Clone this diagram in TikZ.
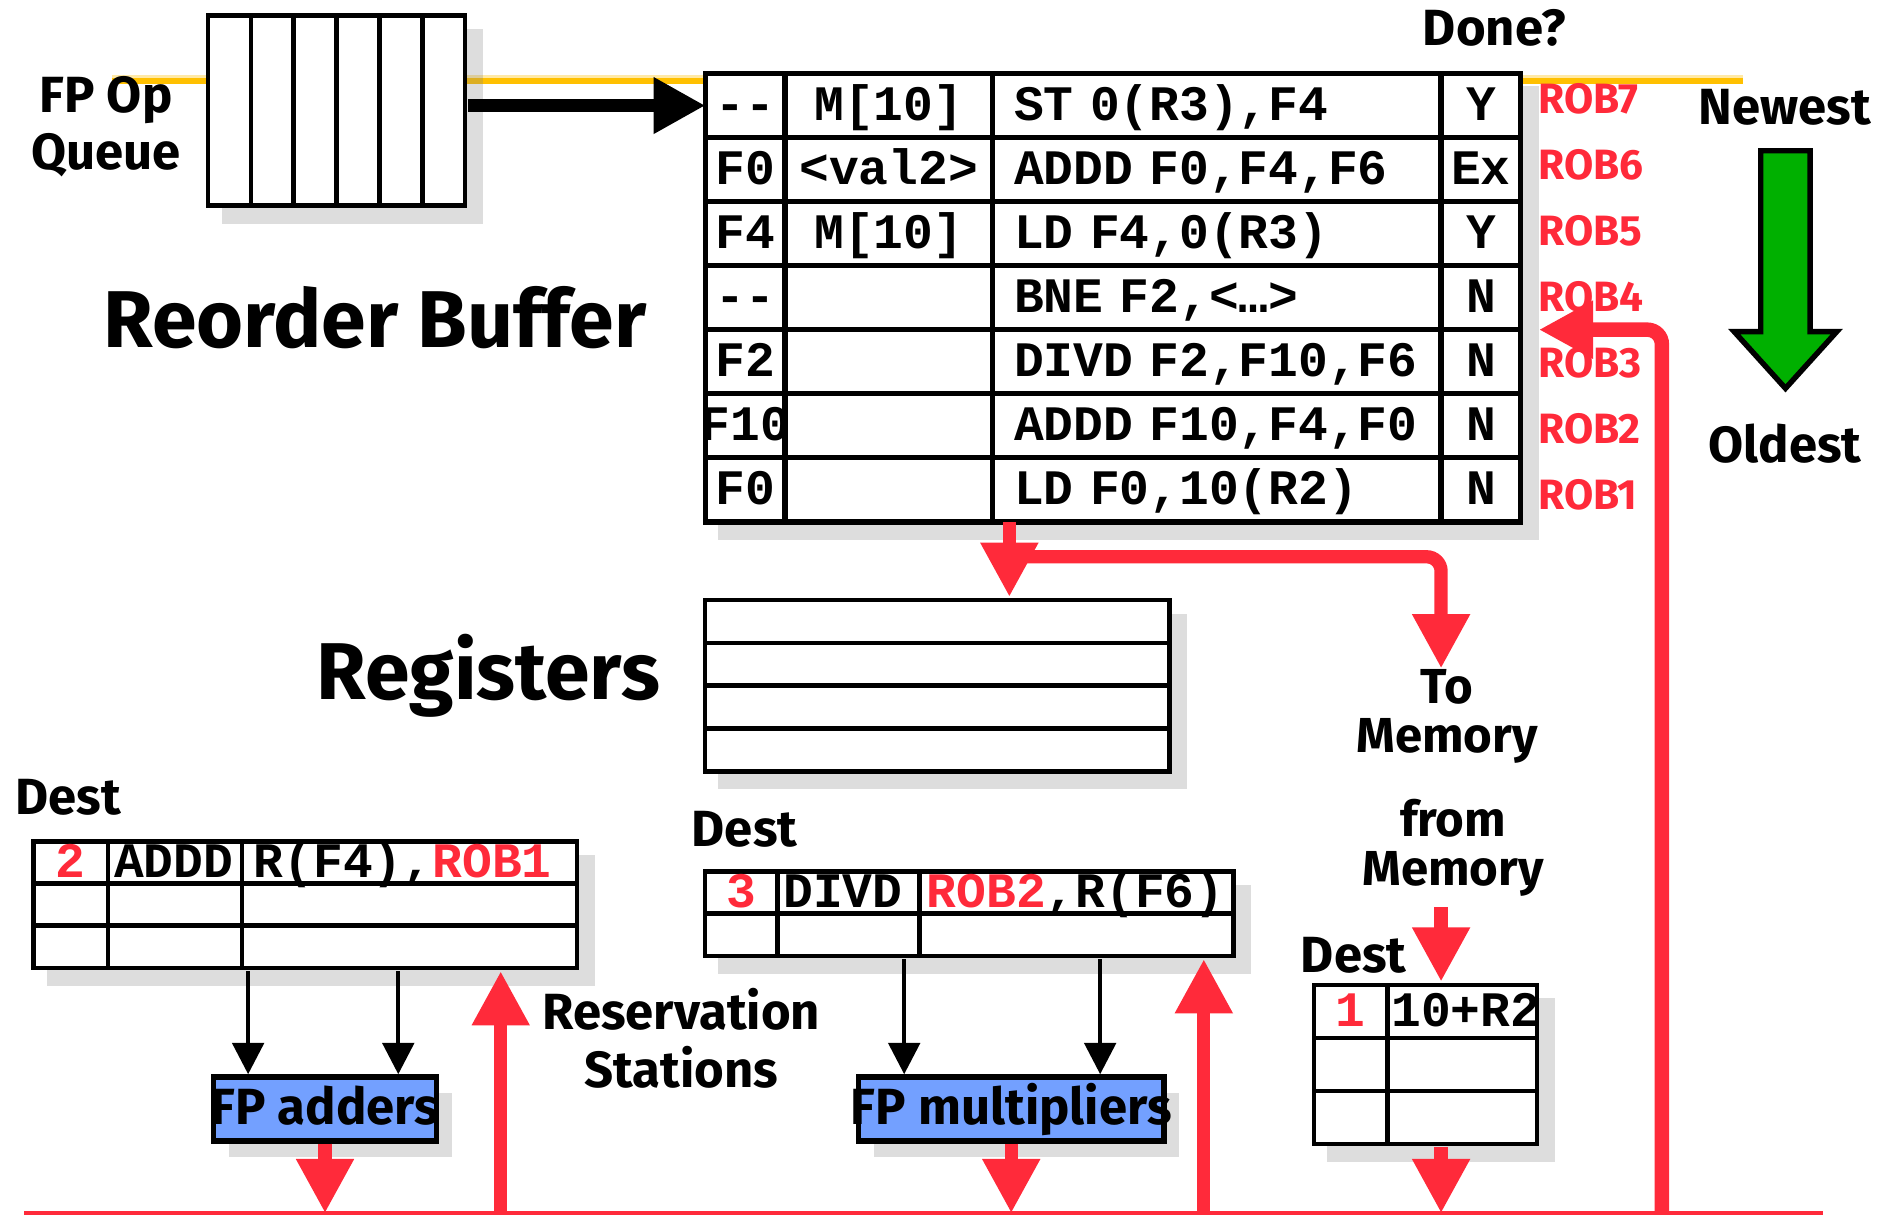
\documentclass[tikz,border=0pt]{standalone}
\usepackage{fontspec}
\setmainfont{Fira Sans}
\setmonofont{Liberation Mono}
\usetikzlibrary{matrix,arrows.meta,shadows,calc}

\definecolor{robred}{RGB}{255,42,58}
\definecolor{fpblue}{RGB}{115,160,255}
\definecolor{opyellow}{RGB}{255,192,0}
\definecolor{agegreen}{RGB}{0,176,0}

\tikzset{
  tbl/.style={matrix of nodes, nodes in empty cells, anchor=north west, inner sep=0pt,
    nodes={tcell, line width=#1}, row sep=-#1, column sep=-#1,
    fill=white, drop shadow={opacity=.27, shadow xshift=1.3mm, shadow yshift=-1.3mm}},
  tcell/.style={draw, outer sep=0pt, inner sep=0pt,
    text height=2.5mm, text depth=0pt, font=\ttfamily\bfseries\fontsize{11.7}{12}\selectfont},
  lefttxt/.style={text width=#1, align=left},
  lbl/.style={font=\bfseries\fontsize{12}{13.5}\selectfont, align=center, inner sep=0pt},
  tightlbl/.style={font=\bfseries\fontsize{11.6}{11.6}\selectfont, align=center, inner sep=0pt},
  bigtxt/.style={font=\bfseries\fontsize{19}{21}\selectfont, inner sep=0pt},
  roblbl/.style={font=\bfseries\fontsize{10}{11}\selectfont, text=robred, anchor=west, inner sep=0pt},
  fpunit/.style={draw, line width=.45mm, fill=fpblue, minimum height=5.3mm, inner sep=0pt,
    text height=2.5mm, text depth=0pt, font=\bfseries\fontsize{12}{13}\selectfont,
    drop shadow={opacity=.27, shadow xshift=1.3mm, shadow yshift=-1.3mm}},
  redarr/.style={draw=robred, line width=1.1mm, -{Triangle[length=4.5mm,width=4.5mm]}},
  blkarr/.style={line width=.35mm, -{Triangle[length=2.6mm,width=2.6mm]}},
  fatarr/.style={line width=1.1mm, -{Triangle[length=4.3mm,width=4.4mm]}},
}

\begin{document}
\begin{tikzpicture}[x=.1mm, y=-.1mm]
\useasboundingbox (0,0) rectangle (1568,1008);

\coordinate (yelL) at (93,66);
\coordinate (yelR) at (1445,66);
\draw[opyellow, line width=.7mm] (yelL) -- (yelR);
\draw[opyellow!35, line width=.2mm] ([yshift=.25mm]yelL) -- ([yshift=.25mm]yelR);

\matrix (queue) [tbl=.38mm, nodes={minimum width=3.55mm, minimum height=15.8mm}] at (170,10)
{ {} & {} & {} & {} & {} & {} \\ };

\matrix (rob) [tbl=.45mm, nodes={minimum height=5.31mm},
  column 1/.style={nodes={minimum width=6.6mm}},
  column 2/.style={nodes={minimum width=17.2mm}},
  column 3/.style={nodes={lefttxt=33.6mm, inner xsep=1.8mm}},
  column 4/.style={nodes={minimum width=6.6mm}}] at (582,58)
{
  -{}- & M[10] & ST 0(R3),F4 & Y \\
  F0 & <val2> & ADDD F0,F4,F6 & Ex \\
  F4 & M[10] & LD F4,0(R3) & Y \\
  -{}- & {} & BNE F2,<…> & N \\
  F2 & {} & DIVD F2,F10,F6 & N \\
  \makebox[0pt]{F10} & {} & ADDD F10,F4,F0 & N \\
  F0 & {} & LD F0,10(R2) & N \\
};

\matrix (regs) [tbl=.38mm, nodes={minimum width=38.5mm, minimum height=3.55mm}] at (582,495)
{ {} \\ {} \\ {} \\ {} \\ };

\matrix (rs1) [tbl=.38mm, nodes={minimum height=3.5mm},
  column 1/.style={nodes={minimum width=6.2mm}},
  column 2/.style={nodes={lefttxt=10.1mm, inner xsep=.5mm}},
  column 3/.style={nodes={lefttxt=25.8mm, inner xsep=1mm}}] at (25,695)
{
  |[text=robred]| 2 & ADDD & R(F4),\textcolor{robred}{ROB1} \\
  {} & {} & {} \\
  {} & {} & {} \\
};

\matrix (rs2) [tbl=.38mm, nodes={minimum height=3.5mm},
  column 1/.style={nodes={minimum width=6mm}},
  column 2/.style={nodes={lefttxt=10.8mm, inner xsep=.5mm}},
  column 3/.style={nodes={lefttxt=24.8mm, inner xsep=.6mm}}] at (582,720)
{
  |[text=robred]| 3 & DIVD & \textcolor{robred}{ROB2},R(F6) \\
  {} & {} & {} \\
};

\matrix (rs3) [tbl=.38mm, nodes={minimum height=4.4mm},
  column 1/.style={nodes={minimum width=6.1mm}},
  column 2/.style={nodes={lefttxt=11.8mm, inner xsep=.3mm}}] at (1087,814)
{
  |[text=robred]| 1 & 10+R2 \\
  {} & {} \\
  {} & {} \\
};

\node[fpunit, minimum width=18.5mm] (adders) at (269.5,919.5) {\makebox[0pt]{FP adders}};
\node[fpunit, minimum width=25.3mm] (mults) at (838.5,919.5) {\makebox[0pt]{FP multipliers}};

\node[lbl] (fpq) at (88,105) {FP Op\\Queue};
\node[bigtxt] (robtitle) at (311,263) {Reorder Buffer};
\node[bigtxt] (regtitle) at (405,560) {Registers};
\node[lbl] (done) at (1239,23) {Done?};
\node[lbl] (newest) at (1480,89) {Newest};
\node[lbl] (oldest) at (1480,368) {Oldest};
\node[tightlbl] (tomem) at (1200,594) {To\\Memory};
\node[tightlbl] (frommem) at (1205,703) {from\\Memory};
\node[lbl] (rstitle) at (565,861) {Reservation\\Stations};
\node[lbl, anchor=south west] (dest1) at ([xshift=-1.3mm, yshift=1.8mm]rs1.north west) {Dest};
\node[lbl, anchor=south west] (dest2) at ([xshift=-.9mm, yshift=1.7mm]rs2.north west) {Dest};
\node[lbl, anchor=south west] (dest3) at ([xshift=-.9mm, yshift=.6mm]rs3.north west) {Dest};

\foreach \n in {1,...,7}
  \node[roblbl] (lbl\n) at (1275,{410.5-54.8*(\n-1)}) {ROB\n};

\draw[line width=.45mm, fill=agegreen, miter limit=10]
  (1460,125) -- (1501,125) -- (1501,275) -- (1523,275) -- (1480.5,322)
  -- (1438,275) -- (1460,275) -- cycle;

\draw[fatarr] (queue.east |- rob-1-1.west) -- (rob-1-1.west);

\coordinate (cdbL) at (20,1006);
\coordinate (cdbR) at (1512,1006);
\coordinate (cdbtap) at (1378,1006);
\draw[robred, line width=.3mm] (cdbL) -- (cdbR);

\draw[redarr] ([xshift=1.4mm]rob-7-3.south west) -- ([xshift=1.4mm]rob-7-3.south west |- regs.north);
\coordinate (split) at ([xshift=1.4mm, yshift=-2.9mm]rob-7-3.south west);
\draw[redarr, rounded corners=1.2mm] (split) -| (rob-7-4.south west |- tomem.north);
\draw[redarr] ([yshift=-.8mm]frommem.south -| rob-7-4.south west) -- (rs3.north -| rob-7-4.south west);
\draw[redarr] (rs3.south -| rob-7-4.south west) -- (cdbL -| rob-7-4.south west);
\draw[redarr] (adders) -- (adders |- cdbL);
\draw[redarr] (mults) -- (mults |- cdbL);
\draw[redarr] ([xshift=-6.6mm]rs1.south east |- cdbL) -- ([xshift=-6.6mm]rs1.south east);
\draw[redarr] ([xshift=-2.7mm]rs2.south east |- cdbL) -- ([xshift=-2.7mm]rs2.south east);
\draw[redarr, line width=1.2mm, rounded corners=1.2mm] (cdbtap) |- ([xshift=1.5mm]rob-4-4.south east);

\draw[blkarr] ([xshift=3.1mm]adders.north west |- rs1.south) -- ([xshift=3.1mm]adders.north west);
\draw[blkarr] ([xshift=-3.4mm]adders.north east |- rs1.south) -- ([xshift=-3.4mm]adders.north east);
\draw[blkarr] ([xshift=4mm]mults.north west |- rs2.south) -- ([xshift=4mm]mults.north west);
\draw[blkarr] ([xshift=-5.5mm]mults.north east |- rs2.south) -- ([xshift=-5.5mm]mults.north east);
\end{tikzpicture}
\end{document}
